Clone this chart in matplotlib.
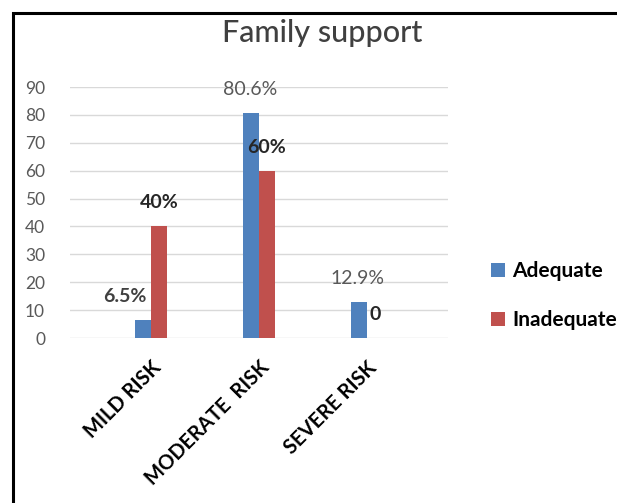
import matplotlib
matplotlib.use("Agg")
import matplotlib.pyplot as plt
from matplotlib.patches import Rectangle
import numpy as np

# данные
categories = ["MILD RISK", "MODERATE  RISK", "SEVERE RISK"]
adequate = [6.5, 80.6, 12.9]
inadequate = [40, 60, 0]
adequate_labels = ["6.5%", "80.6%", "12.9%"]
inadequate_labels = ["40%", "60%", "0"]

BLUE = "#4F81BD"
RED = "#C0504D"

plt.rcParams["font.family"] = ["Lato", "DejaVu Sans"]

fig = plt.figure(figsize=(6.17, 5.03), dpi=100)
ax = fig.add_axes([0.1135, 0.328, 0.6125, 0.499])

x = np.arange(len(categories))
w = 0.144
b1 = ax.bar(x - w / 2, adequate, w, color=BLUE, label="Adequate", zorder=3)
b2 = ax.bar(x + w / 2, inadequate, w, color=RED, label="Inadequate", zorder=3)

# подписи над столбцами (смещения в пунктах)
label_style = [
    # (сдвиг x, цвет, жирный)
    [(-13, "#404040", True), (-1, "#595959", False), (-1, "#595959", False)],
    [(0, "#262626", True), (0, "#262626", True), (0, "#262626", True)],
]
for s, (bars, texts) in enumerate([(b1, adequate_labels), (b2, inadequate_labels)]):
    for i, (bar, t) in enumerate(zip(bars, texts)):
        dx, col, bold = label_style[s][i]
        ax.annotate(t, (bar.get_x() + bar.get_width() / 2, bar.get_height()),
                    xytext=(dx, 17), textcoords="offset points",
                    ha="center", va="center", fontsize=14, color=col,
                    fontweight="bold" if bold else "normal", zorder=4)

ax.set_xlim(-0.75, 2.75)
ax.set_ylim(0, 90)
ax.set_yticks(range(0, 91, 10))
ax.yaxis.grid(True, color="#D9D9D9", linewidth=1, zorder=0)
for sp in ax.spines.values():
    sp.set_visible(False)
ax.tick_params(axis="y", length=0, pad=18, labelsize=12.5, labelcolor="#595959")
ax.tick_params(axis="x", length=0, pad=14)
ax.set_xticks(x)
ax.set_xticklabels(categories, rotation=45, ha="right", rotation_mode="anchor",
                   fontsize=14.5, fontweight="bold", color="black")

fig.text(322 / 617, 1 - 33 / 503, "Family support", fontsize=22, color="#404040",
         ha="center", va="center", fontweight="medium")

ax.legend(loc="center left", bbox_to_anchor=(0.783, 0.412), bbox_transform=fig.transFigure,
          frameon=False, prop={"weight": "bold", "size": 15},
          handlelength=0.65, handleheight=0.65, handletextpad=0.35, labelspacing=1.4,
          borderaxespad=0)

# рамка вокруг рисунка
fig.add_artist(Rectangle((13 / 617, -0.1), 1.2, 1.1 - 13 / 503,
                         transform=fig.transFigure, fill=False,
                         edgecolor="black", linewidth=2.2))

fig.savefig("out.png", dpi=100)
